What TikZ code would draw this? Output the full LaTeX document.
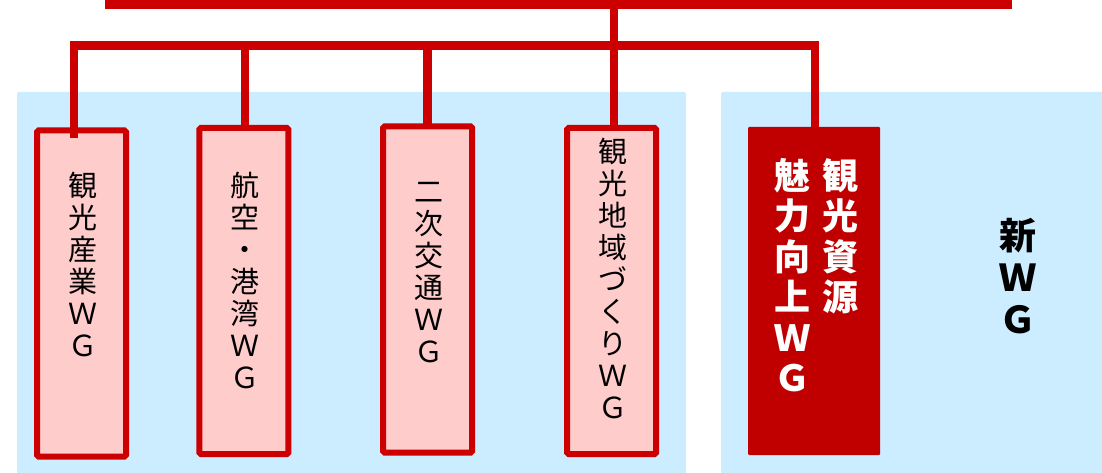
\documentclass[tikz,border=0pt]{standalone}
\usepackage{fontspec}
\newfontfamily\jp{Noto Sans CJK JP}
\definecolor{wgred}{HTML}{CC0000}
\definecolor{wgdark}{HTML}{C00000}
\definecolor{wgpink}{HTML}{FFCCCC}
\definecolor{wgblue}{HTML}{CCECFF}
\begin{document}
\begin{tikzpicture}[x=1pt,y=-1pt,
  panel/.style={fill=wgblue, rounded corners=1.5pt},
  wgbox/.style={draw=wgred, fill=wgpink, line width=6pt, rounded corners=1.5pt,
    minimum width=89pt, minimum height=326pt, inner sep=0pt, outer sep=0pt},
  newbox/.style={fill=wgdark, minimum width=132pt, minimum height=328pt,
    inner sep=0pt, outer sep=0pt, rounded corners=1pt},
  bar/.style={fill=wgred, inner sep=0pt, outer sep=0pt},
  lbl/.style={font=\jp\fontsize{29}{32}\selectfont, align=center, inner sep=0pt,
    anchor=north, text=black},
  lblw/.style={font=\jp\bfseries\fontsize{36}{40.5}\selectfont, align=center,
    inner sep=0pt, anchor=north, text=white},
  lblk/.style={font=\jp\bfseries\fontsize{37}{42}\selectfont, align=center,
    inner sep=0pt, anchor=north, text=black},
  conn/.style={draw=wgred, line width=8.5pt, line join=miter}]
\useasboundingbox (0,0) rectangle (1102,473);
% background panels
\path[panel] (17,92) rectangle (686,480);
\path[panel] (721,92) rectangle (1110,480);
% top bar
\node[bar, minimum width=907pt, minimum height=19pt] (top) at (558.5,-0.5) {};
% boxes
\node[wgbox] (b1) at (81.5,293.5) {};
\node[wgbox] (b2) at (243.8,291) {};
\node[wgbox] (b3) at (427.5,289.5) {};
\node[wgbox] (b4) at (611.5,291) {};
\node[newbox] (b5) at (814,291) {};
% connectors
\coordinate (jL) at (74,45.5);
\coordinate (jR) at (815,45.5);
\draw[conn] ([xshift=2.5pt]b4.north |- top.south) -- ([xshift=2.5pt]b4.north);
\draw[conn] ([xshift=-7.5pt,yshift=-8pt]b1.north) -- (jL) -- (jR) -- (b5.north -| jR);
\draw[conn] ([xshift=1.2pt]b2.north) -- ([xshift=1.2pt]b2.north |- jL);
\draw[conn] (b3.north) -- (b3.north |- jL);
% labels
\node[lbl] (t1) at (82.5,172) {観\\光\\産\\業\\Ｗ\\Ｇ};
\node[lbl] (t2) at (245,172) {航\\空\\・\\港\\湾\\Ｗ\\Ｇ};
\node[lbl] (t3) at (429,182) {二\\次\\交\\通\\Ｗ\\Ｇ};
\node[lbl] (t4) at (613,138) {観\\光\\地\\域\\づ\\く\\り\\Ｗ\\Ｇ};
\node[lblw] (t5r) at (840,158) {観\\光\\資\\源};
\node[lblw] (t5l) at (792,158) {魅\\力\\向\\上\\Ｗ\\Ｇ};
\node[lblk] (t6) at (1018,218) {新\\Ｗ\\Ｇ};
\end{tikzpicture}
\end{document}
